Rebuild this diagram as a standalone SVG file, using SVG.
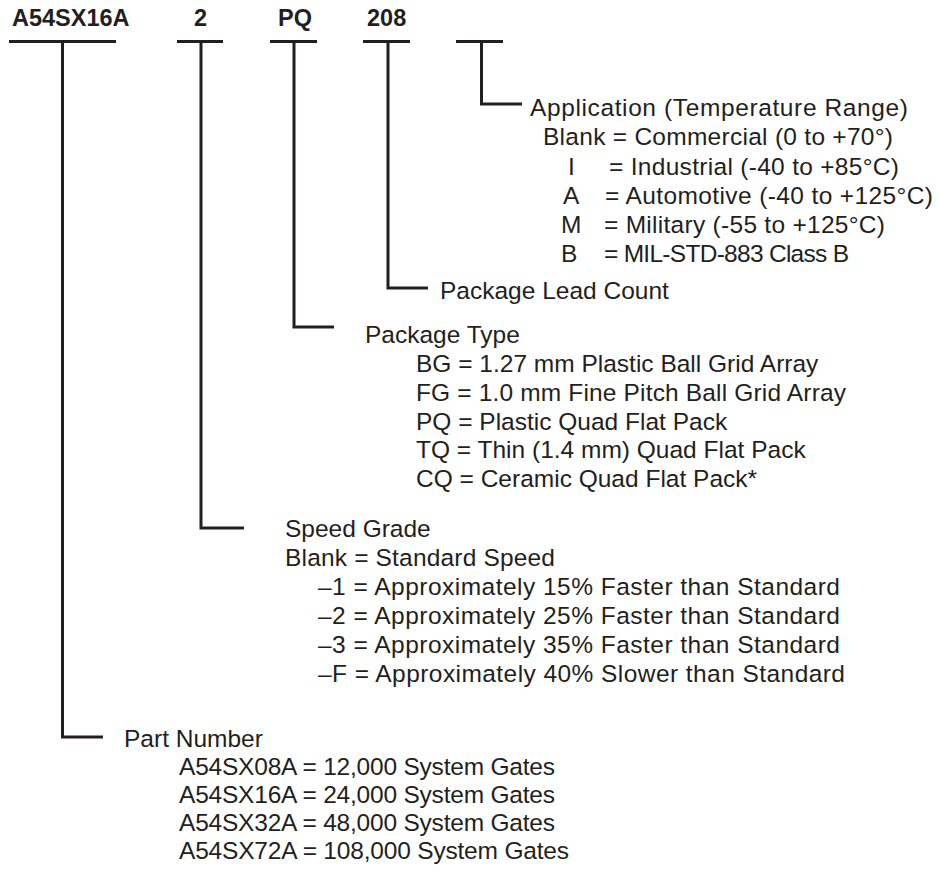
<svg xmlns="http://www.w3.org/2000/svg" width="937" height="871" viewBox="0 0 937 871">
<style>
  text { font-family: "Liberation Sans", Arial, sans-serif; font-size: 24.5px; fill: #231f20; }
  .code { font-weight: bold; font-size: 23.5px; }
  .ln { fill: none; stroke: #231f20; stroke-width: 3; stroke-linecap: butt; stroke-linejoin: miter; }
</style>
<rect width="937" height="871" fill="#ffffff"/>

<g id="codes">
  <text class="code" x="12" y="26">A54SX16A</text>
  <text class="code" x="194" y="26">2</text>
  <text class="code" x="278" y="26">PQ</text>
  <text class="code" x="367" y="26">208</text>
</g>

<g id="connectors">
  <line class="ln" x1="9" y1="41.5" x2="116" y2="41.5"/>
  <line class="ln" x1="177" y1="41.5" x2="223" y2="41.5"/>
  <line class="ln" x1="270" y1="41.5" x2="317" y2="41.5"/>
  <line class="ln" x1="363" y1="41.5" x2="410" y2="41.5"/>
  <line class="ln" x1="456" y1="41.5" x2="503" y2="41.5"/>
  <polyline class="ln" points="62.5,41.5 62.5,737 103,737"/>
  <polyline class="ln" points="201,41.5 201,528 244,528"/>
  <polyline class="ln" points="294,41.5 294,327 334,327"/>
  <polyline class="ln" points="388,41.5 388,288 428,288"/>
  <polyline class="ln" points="481.5,41.5 481.5,104 522,104"/>
</g>

<g id="application">
  <text x="530" y="116" textLength="378" lengthAdjust="spacing">Application (Temperature Range)</text>
  <text x="543" y="145" textLength="350" lengthAdjust="spacing">Blank = Commercial (0 to +70°)</text>
  <text x="568" y="175">I</text><text x="609" y="175" textLength="290" lengthAdjust="spacing">= Industrial (-40 to +85°C)</text>
  <text x="563" y="204">A</text><text x="605" y="204" textLength="328" lengthAdjust="spacing">= Automotive (-40 to +125°C)</text>
  <text x="561" y="233">M</text><text x="604" y="233" textLength="281" lengthAdjust="spacing">= Military (-55 to +125°C)</text>
  <text x="561" y="262">B</text><text x="604" y="262" textLength="245" lengthAdjust="spacing">= MIL-STD-883 Class B</text>
</g>

<g id="lead-count">
  <text x="440" y="299">Package Lead Count</text>
</g>

<g id="package-type">
  <text x="365" y="343">Package Type</text>
  <text x="416" y="372">BG = 1.27 mm Plastic Ball Grid Array</text>
  <text x="416" y="401" textLength="430" lengthAdjust="spacing">FG = 1.0 mm Fine Pitch Ball Grid Array</text>
  <text x="416" y="430">PQ = Plastic Quad Flat Pack</text>
  <text x="416" y="458">TQ = Thin (1.4 mm) Quad Flat Pack</text>
  <text x="416" y="487">CQ = Ceramic Quad Flat Pack*</text>
</g>

<g id="speed-grade">
  <text x="285" y="537">Speed Grade</text>
  <text x="285" y="566" textLength="270" lengthAdjust="spacing">Blank = Standard Speed</text>
  <text x="318" y="595" textLength="522" lengthAdjust="spacing">–1 = Approximately 15% Faster than Standard</text>
  <text x="318" y="624" textLength="522" lengthAdjust="spacing">–2 = Approximately 25% Faster than Standard</text>
  <text x="318" y="653" textLength="522" lengthAdjust="spacing">–3 = Approximately 35% Faster than Standard</text>
  <text x="318" y="682" textLength="527" lengthAdjust="spacing">–F = Approximately 40% Slower than Standard</text>
</g>

<g id="part-number">
  <text x="124" y="747">Part Number</text>
  <text x="179" y="775" textLength="376" lengthAdjust="spacing">A54SX08A = 12,000 System Gates</text>
  <text x="179" y="803" textLength="376" lengthAdjust="spacing">A54SX16A = 24,000 System Gates</text>
  <text x="179" y="831" textLength="376" lengthAdjust="spacing">A54SX32A = 48,000 System Gates</text>
  <text x="179" y="859" textLength="390" lengthAdjust="spacing">A54SX72A = 108,000 System Gates</text>
</g>
</svg>
